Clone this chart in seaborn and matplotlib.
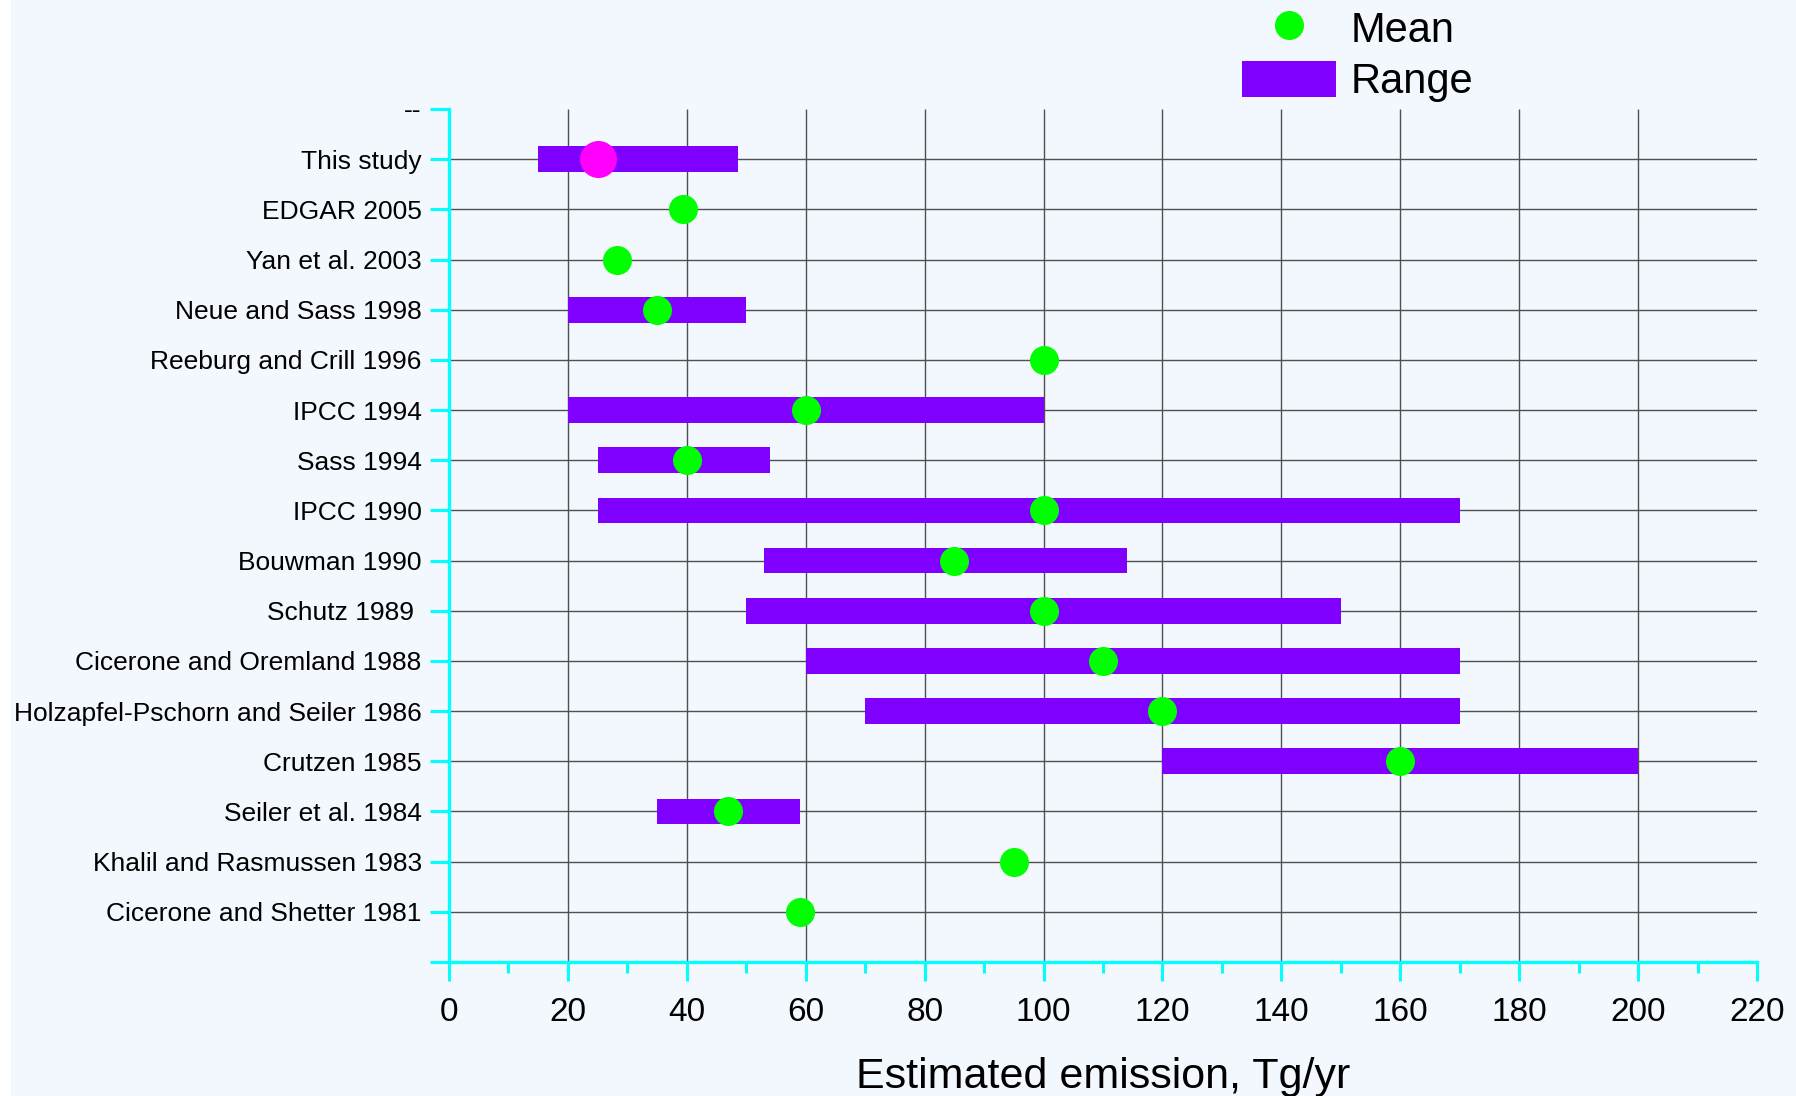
import matplotlib
matplotlib.use("Agg")
import matplotlib.pyplot as plt
from matplotlib.lines import Line2D
from matplotlib.patches import Patch, Rectangle
import seaborn as sns
import pandas as pd
import numpy as np

# ---------------- data ----------------
studies = ["--", "This study", "EDGAR 2005", "Yan et al. 2003", "Neue and Sass 1998",
           "Reeburg and Crill 1996", "IPCC 1994", "Sass 1994", "IPCC 1990",
           "Bouwman 1990", "Schutz 1989 ", "Cicerone and Oremland 1988",
           "Holzapfel-Pschorn and Seiler 1986", "Crutzen 1985", "Seiler et al. 1984",
           "Khalil and Rasmussen 1983", "Cicerone and Shetter 1981"]
range_low = [np.nan, 15, np.nan, np.nan, 20, np.nan, 20, 25, 25, 53, 50, 60, 70, 120, 35, np.nan, np.nan]
range_high = [np.nan, 48.6, np.nan, np.nan, 50, np.nan, 100, 54, 170, 114, 150, 170, 170, 200, 59, np.nan, np.nan]
mean_val = [np.nan, 25, 39.4, 28.2, 35, 100, 60, 40, 100, 85, 100, 110, 120, 160, 47, 95, 59]
x_ticks = [0, 20, 40, 60, 80, 100, 120, 140, 160, 180, 200, 220]

BG = "#F3F7FE"
CYAN = "#00FFFF"
PURPLE = "#8000FF"
GREEN = "#00FF00"
MAGENTA = "#FF00FF"
GRID = "#505050"

sns.set_theme(style="white")
plt.rcParams["font.family"] = ["Liberation Sans", "DejaVu Sans"]
plt.rcParams["text.color"] = "black"

W, H = 1796, 1096
fig = plt.figure(figsize=(W / 100, H / 100), dpi=100, facecolor=BG)
fig.patches.append(Rectangle((0, 0), 11 / W, 1, transform=fig.transFigure,
                             facecolor="white", edgecolor="none", zorder=0))
ax = fig.add_axes([449 / W, (H - 962) / H, (1757 - 449) / W, (962 - 109) / H])
ax.set_facecolor(BG)

ypos = np.arange(len(studies))
df = pd.DataFrame({"study": studies, "y": ypos, "lo": range_low, "hi": range_high, "mean": mean_val})

# grid lines (rows with a study, x major ticks inside the plot)
row_y = ypos[1:]
ax.hlines(row_y, 0, 220, color=GRID, lw=1.0, zorder=1)
ax.vlines(x_ticks[1:-1], 0, len(studies), color=GRID, lw=1.0, zorder=1)

# range bars
rng = df.dropna(subset=["lo"])
ax.barh(rng["y"], rng["hi"] - rng["lo"], left=rng["lo"], height=0.51,
        color=PURPLE, edgecolor="none", zorder=2)

# means
means = df.dropna(subset=["mean"])
this = means[means["study"] == "This study"]
others = means[means["study"] != "This study"]
sns.scatterplot(data=others, x="mean", y="y", ax=ax, color=GREEN, s=437,
                linewidth=0, zorder=3, legend=False)
sns.scatterplot(data=this, x="mean", y="y", ax=ax, color=MAGENTA, s=710,
                linewidth=0, zorder=3, legend=False)

ax.set_xlim(0, 220)
ax.set_ylim(len(studies), 0)
ax.set_yticks(list(ypos) + [len(studies)])
ax.set_yticklabels(studies + [""], fontsize=19, color="black")
ax.set_xticks(x_ticks)
ax.set_xticklabels([str(v) for v in x_ticks], fontsize=24, color="black")
ax.set_xticks(np.arange(10, 220, 20), minor=True)

for side in ["top", "right"]:
    ax.spines[side].set_visible(False)
for side in ["left", "bottom"]:
    ax.spines[side].set_color(CYAN)
    ax.spines[side].set_linewidth(2.4)

ax.tick_params(axis="y", which="major", direction="out", length=13.7, width=2.2,
               color=CYAN, pad=6, left=True)
ax.tick_params(axis="x", which="major", direction="out", length=13.7, width=2.2,
               color=CYAN, pad=11.5, bottom=True)
ax.tick_params(axis="x", which="minor", direction="out", length=8, width=2.2,
               color=CYAN, bottom=True)

ax.set_xlabel("Estimated emission, Tg/yr", fontsize=31, color="black", labelpad=21)
ax.set_ylabel("")

handles = [Line2D([], [], marker="o", color=GREEN, linestyle="", markersize=20.9, markeredgewidth=0),
           Patch(facecolor=PURPLE, edgecolor="none")]
fig.legend(handles, ["Mean", "Range"], loc="upper left",
           bbox_to_anchor=(1242 / W, (1096 - 9) / H), frameon=False, fontsize=30,
           handlelength=2.26, handleheight=0.97, handletextpad=0.34,
           labelspacing=0.24, borderpad=0, borderaxespad=0, labelcolor="black")

fig.savefig("out.png", dpi=100, facecolor=BG)
